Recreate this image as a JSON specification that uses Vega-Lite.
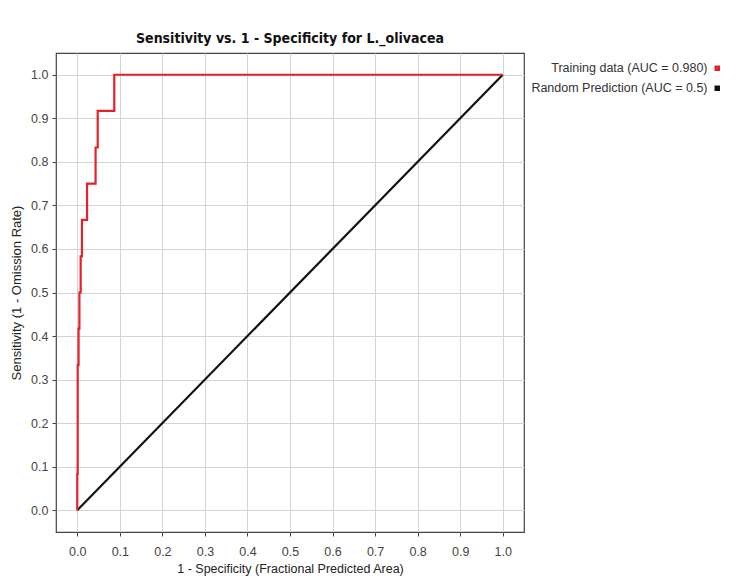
{
  "$schema": "https://vega.github.io/schema/vega-lite/v6.json",
  "width": 468,
  "height": 479,
  "autosize": {"type": "none"},
  "padding": {"left": 56, "top": 53, "right": 219, "bottom": 54},
  "background": "white",
  "config": {
    "font": "Liberation Sans",
    "view": {"stroke": "#444444", "strokeWidth": 1.2}
  },
  "title": {
    "text": "Sensitivity vs. 1 - Specificity for L._olivacea",
    "font": "DejaVu Sans Condensed",
    "fontSize": 14,
    "fontWeight": "bold",
    "color": "#111111",
    "anchor": "middle",
    "offset": 7
  },
  "data": {
    "values": [
      {"series": "Random Prediction (AUC = 0.5)", "i": 0, "fpa": 0.0, "sens": 0.0},
      {"series": "Random Prediction (AUC = 0.5)", "i": 1, "fpa": 1.0, "sens": 1.0},
      {"series": "Training data (AUC = 0.980)", "i": 0, "fpa": 0.0, "sens": 0.0},
      {"series": "Training data (AUC = 0.980)", "i": 1, "fpa": 0.0, "sens": 0.083},
      {"series": "Training data (AUC = 0.980)", "i": 2, "fpa": 0.001, "sens": 0.083},
      {"series": "Training data (AUC = 0.980)", "i": 3, "fpa": 0.001, "sens": 0.333},
      {"series": "Training data (AUC = 0.980)", "i": 4, "fpa": 0.003, "sens": 0.333},
      {"series": "Training data (AUC = 0.980)", "i": 5, "fpa": 0.003, "sens": 0.417},
      {"series": "Training data (AUC = 0.980)", "i": 6, "fpa": 0.005, "sens": 0.417},
      {"series": "Training data (AUC = 0.980)", "i": 7, "fpa": 0.005, "sens": 0.5},
      {"series": "Training data (AUC = 0.980)", "i": 8, "fpa": 0.008, "sens": 0.5},
      {"series": "Training data (AUC = 0.980)", "i": 9, "fpa": 0.008, "sens": 0.583},
      {"series": "Training data (AUC = 0.980)", "i": 10, "fpa": 0.011, "sens": 0.583},
      {"series": "Training data (AUC = 0.980)", "i": 11, "fpa": 0.011, "sens": 0.667},
      {"series": "Training data (AUC = 0.980)", "i": 12, "fpa": 0.023, "sens": 0.667},
      {"series": "Training data (AUC = 0.980)", "i": 13, "fpa": 0.023, "sens": 0.75},
      {"series": "Training data (AUC = 0.980)", "i": 14, "fpa": 0.043, "sens": 0.75},
      {"series": "Training data (AUC = 0.980)", "i": 15, "fpa": 0.043, "sens": 0.833},
      {"series": "Training data (AUC = 0.980)", "i": 16, "fpa": 0.048, "sens": 0.833},
      {"series": "Training data (AUC = 0.980)", "i": 17, "fpa": 0.048, "sens": 0.917},
      {"series": "Training data (AUC = 0.980)", "i": 18, "fpa": 0.087, "sens": 0.917},
      {"series": "Training data (AUC = 0.980)", "i": 19, "fpa": 0.087, "sens": 1.0},
      {"series": "Training data (AUC = 0.980)", "i": 20, "fpa": 1.0, "sens": 1.0}
    ]
  },
  "mark": {"type": "line", "strokeWidth": 2.2},
  "encoding": {
    "x": {
      "field": "fpa",
      "type": "quantitative",
      "scale": {"domain": [-0.05, 1.05], "nice": false, "zero": false},
      "axis": {
        "title": "1 - Specificity  (Fractional Predicted Area)",
        "values": [0, 0.1, 0.2, 0.3, 0.4, 0.5, 0.6, 0.7, 0.8, 0.9, 1.0],
        "format": ".1f",
        "labelFontSize": 12.5,
        "labelColor": "#444444",
        "labelPadding": 9,
        "titleFontSize": 12.5,
        "titleFontWeight": "normal",
        "titleColor": "#222222",
        "titlePadding": 5,
        "tickSize": 4,
        "tickColor": "#444444",
        "domain": false,
        "gridColor": "#d4d4d4",
        "gridWidth": 1
      }
    },
    "y": {
      "field": "sens",
      "type": "quantitative",
      "scale": {"domain": [-0.05, 1.05], "nice": false, "zero": false},
      "axis": {
        "title": "Sensitivity  (1 - Omission Rate)",
        "values": [0, 0.1, 0.2, 0.3, 0.4, 0.5, 0.6, 0.7, 0.8, 0.9, 1.0],
        "format": ".1f",
        "labelFontSize": 12.5,
        "labelColor": "#444444",
        "labelPadding": 4,
        "titleFontSize": 13,
        "titleFontWeight": "normal",
        "titleColor": "#222222",
        "titlePadding": 7,
        "tickSize": 4,
        "tickColor": "#444444",
        "domain": false,
        "gridColor": "#d4d4d4",
        "gridWidth": 1
      }
    },
    "color": {
      "field": "series",
      "type": "nominal",
      "scale": {
        "domain": ["Training data (AUC = 0.980)", "Random Prediction (AUC = 0.5)"],
        "range": ["#e3222a", "#111111"]
      },
      "legend": {
        "title": null,
        "orient": "none",
        "legendX": 655,
        "legendY": 9,
        "padding": 0,
        "symbolType": "square",
        "symbolSize": 30,
        "symbolStrokeWidth": 0,
        "labelAlign": "right",
        "labelOffset": -16,
        "labelFontSize": 12.5,
        "labelLimit": 0,
        "labelColor": "#333333",
        "rowPadding": 7,
        "encode": {
          "symbols": {"update": {"fill": {"scale": "color", "field": "value"}, "stroke": {"value": "transparent"}}}
        }
      }
    },
    "order": {"field": "i", "type": "quantitative"}
  }
}
